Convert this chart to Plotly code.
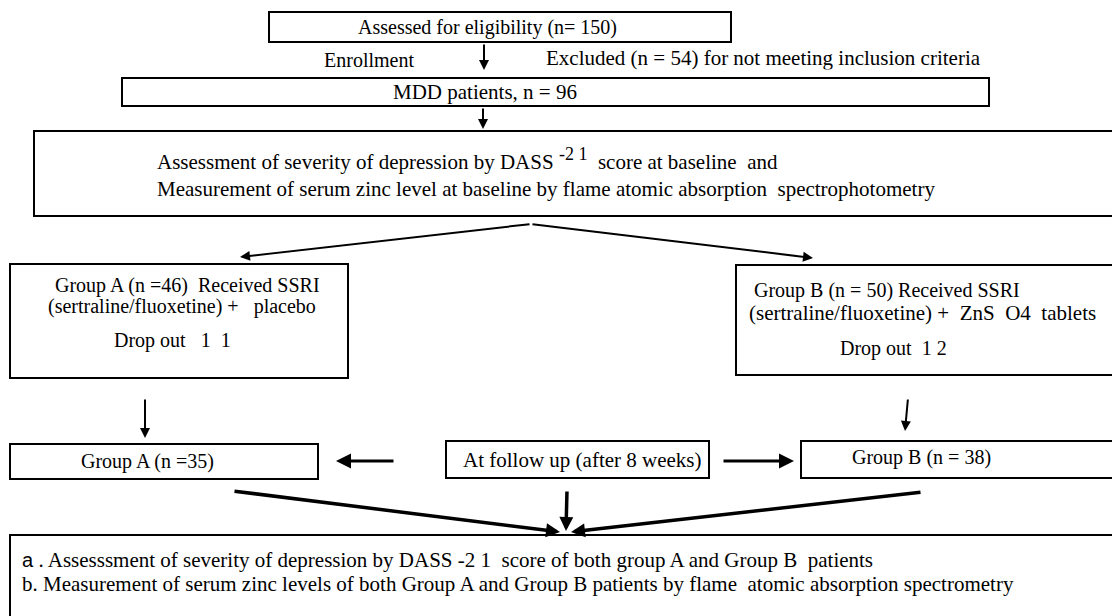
import plotly.graph_objects as go

# ---------------- content (texts) ----------------
top_box_text = "Assessed for eligibility (n= 150)"
enroll_text = "Enrollment"
excluded_text = "Excluded (n = 54) for not meeting inclusion criteria"
mdd_text = "MDD patients, n = 96"
assess_lines = [
    "Assessment of severity of depression by DASS <sup><span style='font-size:18px'>-2 1</span></sup>  score at baseline  and",
    "Measurement of serum zinc level at baseline by flame atomic absorption  spectrophotometry",
]
group_a_lines = [
    "Group A (n =46)  Received SSRI",
    "(sertraline/fluoxetine) +   placebo",
    "Drop out   1  1",
]
group_b_lines = [
    "Group B (n = 50) Received SSRI",
    "(sertraline/fluoxetine) +  ZnS  O4  tablets",
    "Drop out  1 2",
]
group_a_final = "Group A (n =35)"
follow_up_text = "At follow up (after 8 weeks)"
group_b_final = "Group B (n = 38)"
outcome_lines = [
    "<span style='font-family:Liberation Sans, Arial, sans-serif;font-size:20px'>a</span> . Assesssment of severity of depression by DASS -2 1  score of both group A and Group B  patients",
    "b. Measurement of serum zinc levels of both Group A and Group B patients by flame  atomic absorption spectrometry",
]

# ---------------- layout geometry (pixels) ----------------
W, H = 1112, 616
FONT = "Times New Roman, Liberation Serif, DejaVu Serif, serif"
boxes = {
    "top": (269, 12, 731, 42),
    "mdd": (122, 78, 989, 106),
    "assess": (34, 131, 1125, 216),
    "ga": (10, 264, 348, 378),
    "gb": (736, 265, 1125, 375),
    "ga2": (10, 444, 318, 479),
    "fu": (446, 441, 709, 478),
    "gb2": (801, 441, 1125, 478),
    "out": (10, 535, 1125, 625),
}

fig = go.Figure()

# Excluded text as a trace so it can be clipped by a white band (as in the reference)
fig.add_trace(go.Scatter(
    x=[546], y=[60], mode="text", text=[excluded_text],
    textposition="middle right",
    textfont=dict(family=FONT, size=21, color="black"),
    hoverinfo="skip", showlegend=False,
))

shapes = []
shapes.append(dict(type="rect", x0=540, x1=1000, y0=69.5, y1=77, xref="x", yref="y",
                   fillcolor="white", line=dict(width=0), layer="above"))
for k, (x0, y0, x1, y1) in boxes.items():
    shapes.append(dict(type="rect", x0=x0, y0=y0, x1=x1, y1=y1, xref="x", yref="y",
                       line=dict(color="black", width=2), fillcolor="rgba(0,0,0,0)",
                       layer="above"))

annotations = []

def txt(x, y, s, size=21, xanchor="center"):
    annotations.append(dict(x=x, y=y, xref="x", yref="y", text=s, showarrow=False,
                            xanchor=xanchor, yanchor="middle",
                            font=dict(family=FONT, size=size, color="black")))

def arrow(x0, y0, x1, y1, width=2, size=1.0, head=2):
    annotations.append(dict(x=x1, y=y1, ax=x0, ay=y0, xref="x", yref="y",
                            axref="x", ayref="y", text="", showarrow=True,
                            arrowhead=head, arrowsize=size, arrowwidth=width,
                            arrowcolor="black"))

txt(487, 27, top_box_text, size=20)
txt(369, 60, enroll_text, size=20)
txt(485, 92, mdd_text)
txt(155, 159, assess_lines[0], xanchor="left")
txt(155, 189, assess_lines[1], xanchor="left")
txt(187, 285, group_a_lines[0], size=20)
txt(182, 306, group_a_lines[1], size=20)
txt(172, 340, group_a_lines[2], size=20)
txt(752, 290, group_b_lines[0], size=20, xanchor="left")
txt(747, 313, group_b_lines[1], size=21, xanchor="left")
txt(893, 348, group_b_lines[2], size=20)
txt(147, 461, group_a_final, size=20)
txt(582, 460, follow_up_text)
txt(921, 457, group_b_final, size=20)
txt(20, 560, outcome_lines[0], xanchor="left")
txt(20, 584, outcome_lines[1], xanchor="left")

# arrows
arrow(484, 43, 484, 70)
arrow(483, 107, 483, 129)
arrow(531, 224, 240, 257)
arrow(531, 224, 813, 258)
arrow(145, 398, 145, 438)
arrow(908, 398, 905, 431)
arrow(395, 461, 336, 461, width=3)
arrow(722, 461, 794, 461, width=3)
arrow(233, 491, 560, 532, width=3.5, size=0.8)
arrow(567, 490, 566, 531, width=3.5, size=0.8)
arrow(922, 492, 571, 532, width=3.5, size=0.8)

fig.update_layout(
    width=W, height=H,
    margin=dict(l=0, r=0, t=0, b=0),
    paper_bgcolor="white", plot_bgcolor="white",
    xaxis=dict(range=[0, W], visible=False, fixedrange=True),
    yaxis=dict(range=[H, 0], visible=False, fixedrange=True),
    shapes=shapes, annotations=annotations, showlegend=False,
)

fig.write_html("out.html", config={"displayModeBar": False},
               post_script="document.body.style.margin='0px';document.body.style.overflow='hidden';")
